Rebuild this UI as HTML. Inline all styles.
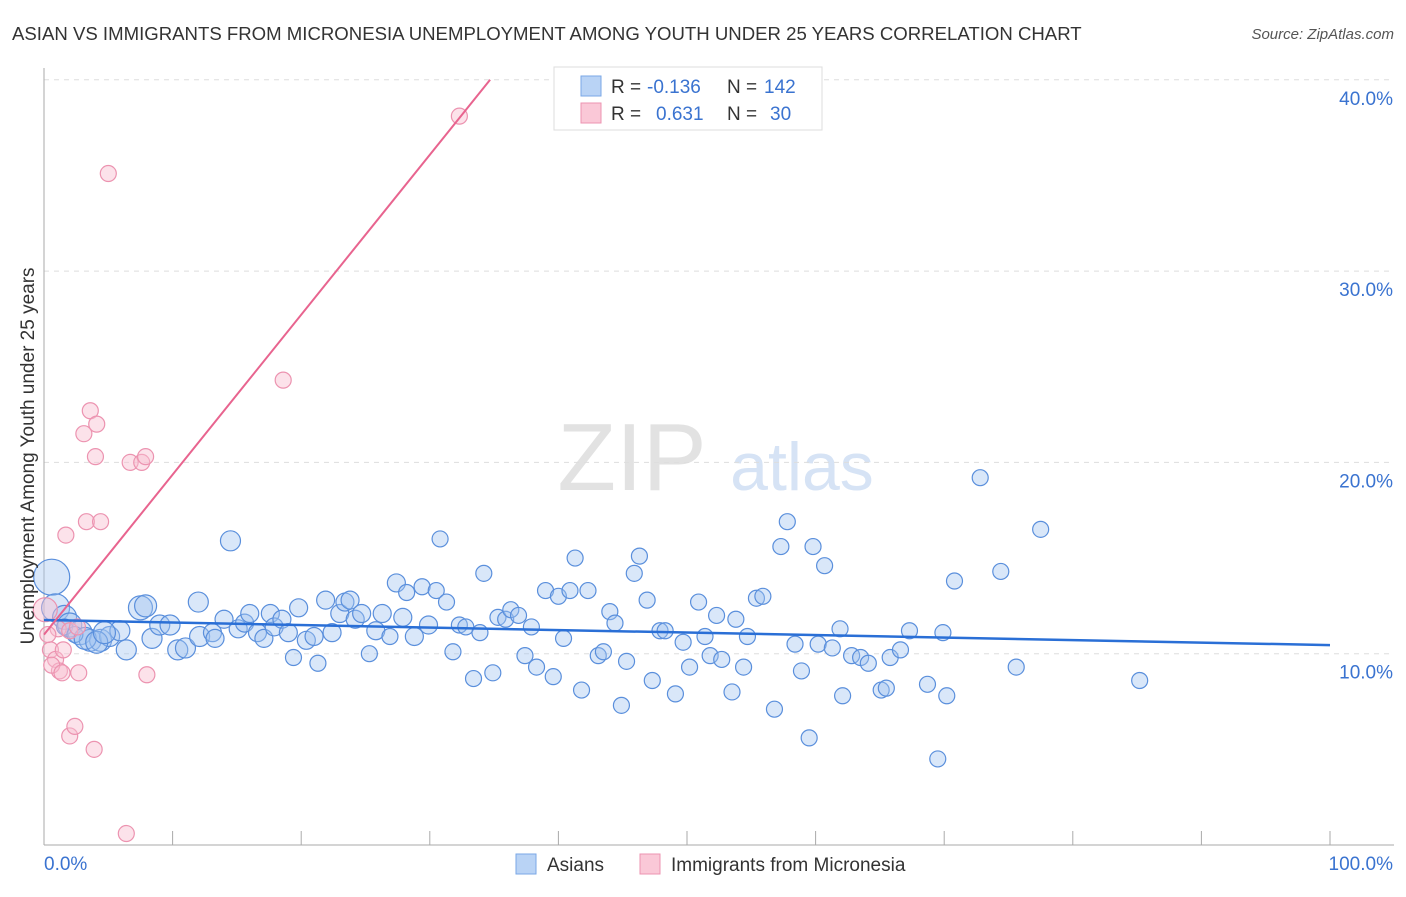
<!DOCTYPE html>
<html><head><meta charset="utf-8"><style>
body{margin:0;background:#fff;font-family:"Liberation Sans",sans-serif}
svg text{font-family:"Liberation Sans",sans-serif}
</style></head><body>
<svg id="chart" width="1406" height="892" viewBox="0 0 1406 892">
<text x="12" y="40" font-size="18.6" fill="#333">ASIAN VS IMMIGRANTS FROM MICRONESIA UNEMPLOYMENT AMONG YOUTH UNDER 25 YEARS CORRELATION CHART</text>
<text x="1394" y="39" font-size="15" fill="#555" font-style="italic" text-anchor="end">Source: ZipAtlas.com</text>
<g>
<text x="632" y="490" font-size="96" fill="#e2e2e2" text-anchor="middle" font-family="Liberation Serif,serif">ZIP</text>
<text x="802" y="490" font-size="68" fill="#d6e3f5" text-anchor="middle">atlas</text>
</g>
<g id="grid"></g>
<g id="axes"></g>
<g id="pts"></g>
<g id="trends"></g>
<text transform="translate(34,456) rotate(-90)" font-size="19" fill="#333" text-anchor="middle">Unemployment Among Youth under 25 years</text>
<g>
<rect x="554" y="67" width="268" height="63" fill="#fff" stroke="#ddd"/>
<rect x="581" y="76" width="20" height="20" fill="#b9d3f5" stroke="#7aa7e6"/>
<rect x="581" y="103" width="20" height="20" fill="#fac8d7" stroke="#ec93b0"/>
<text x="611" y="93" font-size="19" fill="#333">R =</text>
<text x="647" y="93" font-size="19" fill="#3a73d0">-0.136</text>
<text x="727" y="93" font-size="19" fill="#333">N =</text>
<text x="764" y="93" font-size="19" fill="#3a73d0">142</text>
<text x="611" y="120" font-size="19" fill="#333">R =</text>
<text x="656" y="120" font-size="19" fill="#3a73d0">0.631</text>
<text x="727" y="120" font-size="19" fill="#333">N =</text>
<text x="770" y="120" font-size="19" fill="#3a73d0">30</text>
</g>
<g>
<rect x="516" y="854" width="20" height="20" fill="#b9d3f5" stroke="#7aa7e6"/>
<text x="547" y="871" font-size="19" fill="#333">Asians</text>
<rect x="640" y="854" width="20" height="20" fill="#fac8d7" stroke="#ec93b0"/>
<text x="671" y="871" font-size="19" fill="#333">Immigrants from Micronesia</text>
</g>
</svg>
<script>
const yTicks=[10,20,30,40];
const yTickLabels=["10.0%","20.0%","30.0%","40.0%"];
const xTickVals=[0,10,20,30,40,50,60,70,80,90,100];
const asianX=[0.6,0.9,1.6,2.0,2.8,3.6,4.4,5.1,5.9,7.5,7.9,8.4,6.4,9.0,9.8,10.4,11.0,12.0,12.1,13.1,13.3,14.0,14.5,15.1,15.6,16.0,16.6,17.1,17.6,17.9,18.5,19.0,19.4,19.8,20.4,21.0,21.3,21.9,22.4,23.0,23.4,23.8,24.2,24.7,25.3,25.8,26.3,26.9,27.4,27.9,28.2,28.8,29.4,29.9,30.5,30.8,31.3,31.8,32.3,32.8,33.4,33.9,34.2,34.9,35.3,35.9,36.3,36.9,37.4,37.9,38.3,39.0,39.6,40.0,40.4,40.9,41.3,41.8,42.3,43.1,43.5,44.0,44.4,44.9,45.3,45.9,46.3,46.9,47.3,47.9,48.3,49.1,49.7,50.2,50.9,51.4,51.8,52.3,52.7,53.5,53.8,54.4,54.7,55.4,55.9,56.8,57.3,57.8,58.4,58.9,59.5,59.8,60.2,60.7,61.3,61.9,62.1,62.8,63.5,64.1,65.1,65.5,65.8,66.6,67.3,68.7,69.5,69.9,70.2,70.8,72.8,74.4,75.6,77.5,85.2,1.6,2.4,3.2,4.1,4.7];
const asianY=[14.0,12.4,11.9,11.5,11.1,10.7,10.7,10.9,11.2,12.4,12.5,10.8,10.2,11.5,11.5,10.2,10.3,12.7,10.9,11.1,10.8,11.8,15.9,11.3,11.6,12.1,11.1,10.8,12.1,11.4,11.8,11.1,9.8,12.4,10.7,10.9,9.5,12.8,11.1,12.1,12.7,12.8,11.8,12.1,10.0,11.2,12.1,10.9,13.7,11.9,13.2,10.9,13.5,11.5,13.3,16.0,12.7,10.1,11.5,11.4,8.7,11.1,14.2,9.0,11.9,11.8,12.3,12.0,9.9,11.4,9.3,13.3,8.8,13.0,10.8,13.3,15.0,8.1,13.3,9.9,10.1,12.2,11.6,7.3,9.6,14.2,15.1,12.8,8.6,11.2,11.2,7.9,10.6,9.3,12.7,10.9,9.9,12.0,9.7,8.0,11.8,9.3,10.9,12.9,13.0,7.1,15.6,16.9,10.5,9.1,5.6,15.6,10.5,14.6,10.3,11.3,7.8,9.9,9.8,9.5,8.1,8.2,9.8,10.2,11.2,8.4,4.5,11.1,7.8,13.8,19.2,14.3,9.3,16.5,8.6,11.4,11.0,10.8,10.6,11.1];
const asianR=[18,14,12,12,12,11,11,10,10,12,11,10,10,10,10,10,10,10,10,9,9,9,10,9,9,9,9,9,9,9,9,9,8,9,9,9,8,9,9,9,9,9,9,9,8,9,9,8,9,9,8,9,8,9,8,8,8,8,8,8,8,8,8,8,8,8,8,8,8,8,8,8,8,8,8,8,8,8,8,8,8,8,8,8,8,8,8,8,8,8,8,8,8,8,8,8,8,8,8,8,8,8,8,8,8,8,8,8,8,8,8,8,8,8,8,8,8,8,8,8,8,8,8,8,8,8,8,8,8,8,8,8,8,8,8,8,8,11,11,11,11,11];
const micX=[0.1,0.5,0.9,1.2,0.6,1.4,1.7,2.0,2.4,2.7,3.1,3.3,3.6,3.9,4.0,4.1,4.4,5.0,6.4,6.7,7.6,7.9,8.0,18.6,32.3,1.1,2.0,0.3,1.5,2.6];
const micY=[12.3,10.2,9.7,9.1,9.4,9.0,16.2,5.7,6.2,9.0,21.5,16.9,22.7,5.0,20.3,22.0,16.9,35.1,0.6,20.0,20.0,20.3,8.9,24.3,38.1,11.3,11.2,11.0,10.2,11.4];
const asianTrend=[11.76,10.45];
const micTrend=[11.0,0.836];
const NS="http://www.w3.org/2000/svg";
const X0=44,X1=1330,Y0=845,PY=19.13;
const sx=v=>X0+(X1-X0)*v/100;
const sy=v=>Y0-v*PY;
function mk(tag,attrs,parent){const e=document.createElementNS(NS,tag);for(const k in attrs)e.setAttribute(k,attrs[k]);document.getElementById(parent).appendChild(e);return e;}
yTicks.forEach((t,i)=>{
 const g=mk('line',{x1:X0,x2:1394,y1:sy(t),y2:sy(t),stroke:'#ddd','stroke-dasharray':'5,5'},'grid');
 
 
 const l=mk('text',{x:1393,y:sy(t)+25,'font-size':19,fill:'#3a73d0','text-anchor':'end'},'axes');
 l.textContent=yTickLabels[i];
 
 
});
const ya=mk('line',{x1:X0,x2:X0,y1:68,y2:Y0,stroke:'#aaa'},'axes');


const xa=mk('line',{x1:X0,x2:1394,y1:Y0,y2:Y0,stroke:'#aaa'},'axes');


xTickVals.forEach(t=>{
 const k=mk('line',{x1:sx(t),x2:sx(t),y1:Y0,y2:Y0-14,stroke:'#aaa'},'axes');
 
 
});
const xl0=mk('text',{x:44,y:870,'font-size':19,fill:'#3a73d0'},'axes');xl0.textContent='0.0%';


const xl1=mk('text',{x:1393,y:870,'font-size':19,fill:'#3a73d0','text-anchor':'end'},'axes');xl1.textContent='100.0%';


asianX.forEach((x,i)=>{
 const c=mk('circle',{cx:sx(x),cy:sy(asianY[i]),r:asianR[i],fill:'rgba(160,196,240,0.4)',stroke:'#5a8fdc','stroke-width':1.2},'pts');
 
 
});
micX.forEach((x,i)=>{
 const c=mk('circle',{cx:sx(x),cy:sy(micY[i]),r:i==0?12:8,fill:'rgba(248,190,208,0.45)',stroke:'#ec93b0','stroke-width':1.2},'pts');
 
 
});
const bt=mk('line',{x1:sx(0),y1:sy(asianTrend[0]),x2:sx(100),y2:sy(asianTrend[1]),stroke:'#2a6fd6','stroke-width':2.5},'trends');


const xe=(40-micTrend[0])/micTrend[1];
const pt=mk('line',{x1:sx(0),y1:sy(micTrend[0]),x2:sx(xe),y2:sy(40),stroke:'#e8648f','stroke-width':2},'trends');


</script>
</body></html>
